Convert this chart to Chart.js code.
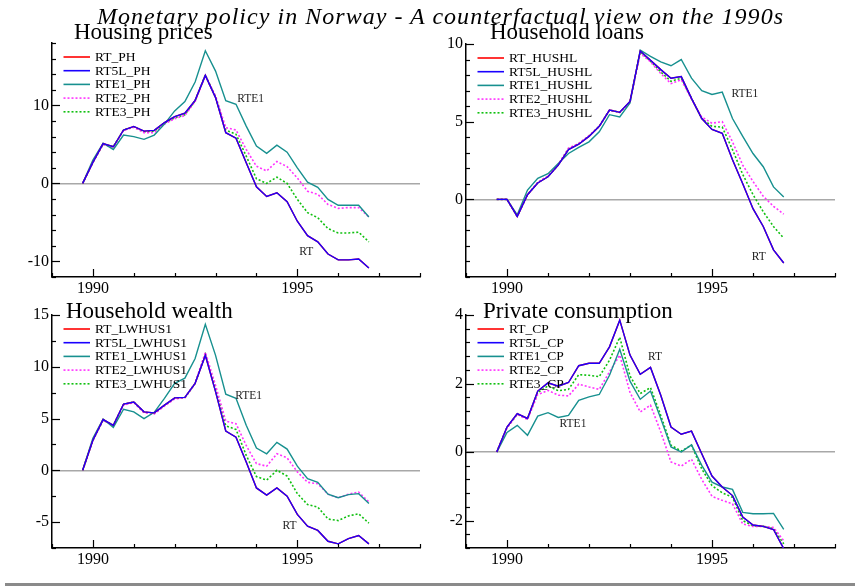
<!DOCTYPE html>
<html><head><meta charset="utf-8">
<script src="https://cdn.jsdelivr.net/npm/chart.js@4/dist/chart.umd.min.js"></script>
<style>
html,body{margin:0;padding:0;background:#fff;}
#wrap{position:relative;width:863px;height:586px;overflow:hidden;background:#fff;}
canvas{position:absolute;}
.t{position:absolute;font-family:'Liberation Serif',serif;white-space:nowrap;line-height:1;color:#000;}
#bottomRule{position:absolute;left:5px;top:583px;width:850px;height:3px;background:#8a8a8a;}
</style></head><body>
<div id="wrap">
  <canvas id="c1" width="432" height="300" style="left:0;top:0"></canvas>
  <canvas id="c2" width="431" height="300" style="left:432px;top:0"></canvas>
  <canvas id="c3" width="432" height="282" style="left:0;top:290px"></canvas>
  <canvas id="c4" width="431" height="282" style="left:432px;top:290px"></canvas>
  <div class="t" id="mainTitle" style="left:97px;top:4px;font-size:24px;font-style:italic">Monetary policy in Norway - A counterfactual view on the 1990s</div>
  <div class="t" style="left:74px;top:20px;font-size:23px">Housing prices</div>
  <div class="t" style="left:490px;top:20px;font-size:23px">Household loans</div>
  <div class="t" style="left:66px;top:299px;font-size:23px">Household wealth</div>
  <div class="t" style="left:483px;top:299px;font-size:23px">Private consumption</div>
  <div id="bottomRule"></div>
</div>
<script>
// ---------------- data ----------------
const periods = ['1989Q4','1990Q1','1990Q2','1990Q3','1990Q4','1991Q1','1991Q2','1991Q3','1991Q4',
  '1992Q1','1992Q2','1992Q3','1992Q4','1993Q1','1993Q2','1993Q3','1993Q4','1994Q1','1994Q2','1994Q3','1994Q4',
  '1995Q1','1995Q2','1995Q3','1995Q4','1996Q1','1996Q2','1996Q3','1996Q4'];
const xTickLabels = [1990, 1995];
const seriesNames = ['RT', 'RT5L', 'RTE1', 'RTE2', 'RTE3'];

// Housing prices
const ph_RT   = [0, 2.7, 5.1, 4.7, 6.85, 7.3, 6.7, 6.8, 7.8, 8.55, 9.0, 10.65, 13.85, 11.0, 6.5, 5.8, 2.65, -0.43, -1.67, -1.2, -2.35, -4.85, -6.7, -7.5, -9.05, -9.8, -9.8, -9.7, -10.85];
const ph_RT5L = [0, 2.7, 5.1, 4.7, 6.85, 7.3, 6.7, 6.8, 7.8, 8.55, 9.0, 10.65, 13.85, 11.0, 6.5, 5.8, 2.65, -0.43, -1.67, -1.2, -2.35, -4.85, -6.7, -7.5, -9.05, -9.8, -9.8, -9.7, -10.85];
const ph_RTE1 = [0, 3.0, 5.15, 4.35, 6.2, 6.0, 5.65, 6.2, 7.6, 9.3, 10.5, 13.0, 17.0, 14.4, 10.6, 10.15, 7.35, 4.8, 3.85, 4.9, 4.0, 2.0, 0.15, -0.5, -2.05, -2.8, -2.8, -2.8, -4.3];
const ph_RTE2 = [0, 2.7, 5.0, 4.6, 6.8, 7.2, 6.5, 6.5, 7.6, 8.3, 8.7, 10.5, 13.8, 11.2, 7.15, 6.85, 4.35, 2.2, 1.6, 2.8, 2.15, 0.7, -1.0, -1.4, -2.7, -3.2, -3.1, -3.1, -4.3];
const ph_RTE3 = [0, 2.7, 5.0, 4.7, 6.85, 7.25, 6.6, 6.7, 7.7, 8.4, 8.8, 10.6, 13.9, 11.1, 6.85, 6.3, 3.5, 0.6, 0.0, 0.8, 0.0, -2.05, -3.75, -4.4, -5.8, -6.35, -6.35, -6.25, -7.5];

// Household loans
const hl_RT   = [0, 0, -1.1, 0.3, 1.05, 1.45, 2.2, 3.2, 3.55, 4.05, 4.7, 5.75, 5.6, 6.3, 9.55, 8.95, 8.35, 7.8, 7.9, 6.5, 5.2, 4.5, 4.25, 2.55, 1.0, -0.6, -1.75, -3.25, -4.1];
const hl_RT5L = [0, 0, -1.1, 0.3, 1.05, 1.45, 2.2, 3.2, 3.55, 4.05, 4.7, 5.75, 5.6, 6.3, 9.55, 8.95, 8.35, 7.8, 7.9, 6.5, 5.2, 4.5, 4.25, 2.55, 1.0, -0.6, -1.75, -3.25, -4.1];
const hl_RTE1 = [0, 0, -1.0, 0.6, 1.35, 1.65, 2.3, 2.95, 3.35, 3.7, 4.35, 5.45, 5.3, 6.2, 9.6, 9.2, 8.85, 8.6, 9.0, 7.8, 7.0, 6.75, 6.9, 5.2, 4.05, 2.95, 2.1, 0.8, 0.15];
const hl_RTE2 = [0, 0, -1.1, 0.3, 1.1, 1.5, 2.25, 3.3, 3.6, 4.1, 4.7, 5.75, 5.6, 6.25, 9.4, 8.85, 8.1, 7.45, 7.7, 6.45, 5.3, 4.9, 5.0, 3.7, 2.2, 1.15, 0.2, -0.45, -0.95];
const hl_RTE3 = [0, 0, -1.1, 0.3, 1.08, 1.48, 2.22, 3.25, 3.58, 4.08, 4.7, 5.75, 5.6, 6.28, 9.5, 8.9, 8.2, 7.6, 7.8, 6.5, 5.2, 4.7, 4.65, 3.2, 1.6, 0.3, -0.8, -1.75, -2.5];

// Household wealth
const hw_RT   = [0, 2.9, 4.9, 4.35, 6.4, 6.6, 5.65, 5.55, 6.3, 7.0, 7.05, 8.4, 11.1, 7.6, 3.8, 3.2, 0.8, -1.7, -2.4, -1.7, -2.5, -4.25, -5.4, -5.8, -6.85, -7.1, -6.6, -6.3, -7.1];
const hw_RT5L = [0, 2.9, 4.9, 4.35, 6.4, 6.6, 5.65, 5.55, 6.3, 7.0, 7.05, 8.4, 11.1, 7.6, 3.8, 3.2, 0.8, -1.7, -2.4, -1.7, -2.5, -4.25, -5.4, -5.8, -6.85, -7.1, -6.6, -6.3, -7.1];
const hw_RTE1 = [0, 3.1, 4.95, 4.15, 5.9, 5.65, 5.0, 5.6, 6.95, 8.4, 8.9, 10.8, 14.1, 11.1, 7.35, 6.95, 4.35, 2.15, 1.6, 2.7, 2.05, 0.4, -0.8, -1.15, -2.3, -2.65, -2.35, -2.25, -3.2];
const hw_RTE2 = [0, 2.9, 4.85, 4.3, 6.3, 6.55, 5.55, 5.45, 6.2, 6.9, 7.0, 8.4, 11.4, 8.2, 4.75, 4.5, 2.4, 0.65, 0.4, 1.6, 1.2, -0.15, -1.15, -1.3, -2.3, -2.65, -2.3, -2.1, -3.05];
const hw_RTE3 = [0, 2.9, 4.85, 4.35, 6.35, 6.6, 5.6, 5.5, 6.25, 6.95, 7.0, 8.4, 11.2, 7.9, 4.3, 3.95, 1.45, -0.6, -0.95, 0, -0.55, -2.25, -3.3, -3.55, -4.7, -4.85, -4.4, -4.2, -5.1];

// Private consumption
const cp_RT   = [0, 0.73, 1.12, 0.98, 1.78, 2.02, 1.92, 2.03, 2.52, 2.59, 2.59, 3.07, 3.85, 2.83, 2.27, 2.47, 1.66, 0.73, 0.52, 0.61, -0.05, -0.7, -1.02, -1.27, -1.9, -2.13, -2.17, -2.26, -2.82];
const cp_RT5L = [0, 0.73, 1.12, 0.98, 1.78, 2.02, 1.92, 2.03, 2.52, 2.59, 2.59, 3.07, 3.85, 2.83, 2.27, 2.47, 1.66, 0.73, 0.52, 0.61, -0.05, -0.7, -1.02, -1.27, -1.9, -2.13, -2.17, -2.26, -2.82];
const cp_RTE1 = [0, 0.57, 0.78, 0.49, 1.05, 1.15, 1.01, 1.07, 1.51, 1.61, 1.68, 2.24, 3.0, 2.07, 1.54, 1.78, 0.98, 0.15, 0.0, 0.21, -0.39, -0.88, -1.02, -1.09, -1.76, -1.8, -1.8, -1.79, -2.26];
const cp_RTE2 = [0, 0.7, 1.1, 0.95, 1.68, 1.8, 1.66, 1.64, 1.98, 1.9, 1.83, 2.34, 2.83, 1.74, 1.17, 1.37, 0.59, -0.29, -0.41, -0.21, -0.8, -1.29, -1.41, -1.51, -2.1, -2.17, -2.17, -2.2, -2.59];
const cp_RTE3 = [0, 0.72, 1.1, 0.97, 1.74, 1.93, 1.79, 1.83, 2.26, 2.24, 2.2, 2.68, 3.35, 2.22, 1.71, 1.88, 1.07, 0.2, 0.03, 0.2, -0.49, -0.98, -1.19, -1.32, -2.0, -2.15, -2.17, -2.23, -2.68];

// ---------------- styles ----------------
const lineColors = ['#ff0000', '#1a00ff', '#17908f', '#ff33ff', '#10c010'];
const lineDashes = [[], [], [], [2, 2], [2, 2]];
const drawOrder  = [1, 0, 2, 3, 4];
const FONT = "'Liberation Serif', serif";

const xs = periods.map(p => Number(p.slice(0, 4)) + (Number(p.slice(5)) - 1) / 4);

// ---------------- plugins ----------------
const innerTicks = {
  id: 'innerTicks',
  afterDraw(chart) {
    const ctx = chart.ctx, a = chart.chartArea;
    const sx = chart.scales.x, sy = chart.scales.y;
    ctx.save();
    ctx.strokeStyle = '#000';
    ctx.lineWidth = 1.2;
    sx.ticks.forEach(t => {
      const px = Math.round(sx.getPixelForValue(t.value)) + 0.5;
      const L = t.label !== '' ? 8 : 4;
      ctx.beginPath(); ctx.moveTo(px, a.bottom); ctx.lineTo(px, a.bottom - L); ctx.stroke();
    });
    sy.ticks.forEach(t => {
      const py = Math.round(sy.getPixelForValue(t.value)) + 0.5;
      const L = t.label !== '' ? 8 : 4;
      ctx.beginPath(); ctx.moveTo(a.left, py); ctx.lineTo(a.left + L, py); ctx.stroke();
    });
    ctx.restore();
  }
};

const boxLegend = {
  id: 'boxLegend',
  afterDraw(chart) {
    const ctx = chart.ctx, a = chart.chartArea;
    ctx.save();
    ctx.font = "13.5px " + FONT;
    ctx.textBaseline = 'middle';
    ctx.textAlign = 'left';
    chart.data.datasets.forEach((ds, i) => {
      const y = a.top + 14 + i * 13.7;
      ctx.strokeStyle = ds.borderColor;
      ctx.lineWidth = 1.6;
      ctx.setLineDash(ds.borderDash || []);
      ctx.beginPath(); ctx.moveTo(a.left + 11.5, y); ctx.lineTo(a.left + 38, y); ctx.stroke();
      ctx.setLineDash([]);
      ctx.fillStyle = '#000';
      ctx.fillText(ds.label, a.left + 43, y + 0.5);
    });
    ctx.restore();
  }
};

const curveLabels = {
  id: 'curveLabels',
  afterDraw(chart, args, opts) {
    const ctx = chart.ctx, sx = chart.scales.x, sy = chart.scales.y;
    ctx.save();
    ctx.font = "11.5px " + FONT;
    ctx.fillStyle = '#222';
    ctx.textAlign = 'center';
    ctx.textBaseline = 'middle';
    (opts.items || []).forEach(it => {
      ctx.fillText(it.text, sx.getPixelForValue(it.x), sy.getPixelForValue(it.y));
    });
    ctx.restore();
  }
};

// ---------------- panels ----------------
const panels = [
  { id: 'c1', suffix: 'PH', series: [ph_RT, ph_RT5L, ph_RTE1, ph_RTE2, ph_RTE3],
    yMin: -12, yMax: 18, yStep: 2, yLabelEvery: 10, yAxisW: 52, xAxisH: 23,
    pad: { top: 43, right: 12, left: 0, bottom: 0 },
    notes: [{ text: 'RTE1', x: 1993.86, y: 10.8 }, { text: 'RT', x: 1995.22, y: -8.74 }] },
  { id: 'c2', suffix: 'HUSHL', series: [hl_RT, hl_RT5L, hl_RTE1, hl_RTE2, hl_RTE3],
    yMin: -5, yMax: 10, yStep: 1, yLabelEvery: 5, yAxisW: 34, xAxisH: 23,
    pad: { top: 44, right: 28, left: 0, bottom: 0 },
    notes: [{ text: 'RTE1', x: 1995.8, y: 6.78 }, { text: 'RT', x: 1996.14, y: -3.72 }] },
  { id: 'c3', suffix: 'LWHUS1', series: [hw_RT, hw_RT5L, hw_RTE1, hw_RTE2, hw_RTE3],
    yMin: -7.5, yMax: 15, yStep: 2.5, yLabelEvery: 5, yAxisW: 52, xAxisH: 24,
    pad: { top: 25, right: 12, left: 0, bottom: 0 },
    notes: [{ text: 'RTE1', x: 1993.81, y: 7.16 }, { text: 'RT', x: 1994.81, y: -5.42 }] },
  { id: 'c4', suffix: 'CP', series: [cp_RT, cp_RT5L, cp_RTE1, cp_RTE2, cp_RTE3],
    yMin: -2.8, yMax: 4, yStep: 0.4, yLabelEvery: 2, yAxisW: 34, xAxisH: 24,
    pad: { top: 25, right: 28, left: 0, bottom: 0 },
    notes: [{ text: 'RTE1', x: 1991.61, y: 0.81 }, { text: 'RT', x: 1993.61, y: 2.77 }] }
];

function isMult(v, m) { const r = v / m; return Math.abs(r - Math.round(r)) < 1e-6; }

panels.forEach(p => {
  const datasets = p.series.map((vals, i) => ({
    label: seriesNames[i] + '_' + p.suffix,
    data: vals.map((v, k) => ({ x: xs[k], y: v })),
    borderColor: lineColors[i],
    backgroundColor: lineColors[i],
    borderWidth: lineDashes[i].length ? 1.6 : 1.4,
    borderDash: lineDashes[i],
    pointRadius: 0,
    fill: false,
    tension: 0,
    order: drawOrder[i]
  }));
  new Chart(document.getElementById(p.id), {
    type: 'line',
    data: { datasets },
    plugins: [innerTicks, boxLegend, curveLabels],
    options: {
      responsive: false,
      animation: false,
      events: [],
      layout: { padding: p.pad },
      plugins: {
        legend: { display: false },
        tooltip: { enabled: false },
        title: { display: false },
        curveLabels: { items: p.notes }
      },
      scales: {
        x: {
          type: 'linear', min: 1989, max: 1998,
          grid: { display: false, drawTicks: false },
          border: { display: true, color: '#000', width: 1.5 },
          ticks: {
            stepSize: 1, autoSkip: false, maxRotation: 0, padding: 2, color: '#000',
            font: { family: FONT, size: 16 },
            callback: v => xTickLabels.includes(v) ? String(v) : ''
          },
          afterFit: s => { s.height = p.xAxisH; }
        },
        y: {
          type: 'linear', min: p.yMin, max: p.yMax,
          grid: {
            drawTicks: false,
            lineWidth: 1.5,
            color: c => (c.tick && Math.abs(c.tick.value) < 1e-9) ? '#a8a8a8' : 'rgba(0,0,0,0)'
          },
          border: { display: true, color: '#000', width: 1.5 },
          ticks: {
            stepSize: p.yStep, autoSkip: false, padding: 3, color: '#000',
            font: { family: FONT, size: 16 },
            callback: (v, idx) => (idx > 0 && isMult(v, p.yLabelEvery)) ? String(Math.round(v)) : ''
          },
          afterFit: s => { s.width = p.yAxisW; }
        }
      }
    }
  });
});

// fit main title width to the reference span
const mt = document.getElementById('mainTitle');
const w = mt.getBoundingClientRect().width;
mt.style.letterSpacing = ((686 - w) / (mt.textContent.length - 1)) + 'px';
</script>
</body></html>
